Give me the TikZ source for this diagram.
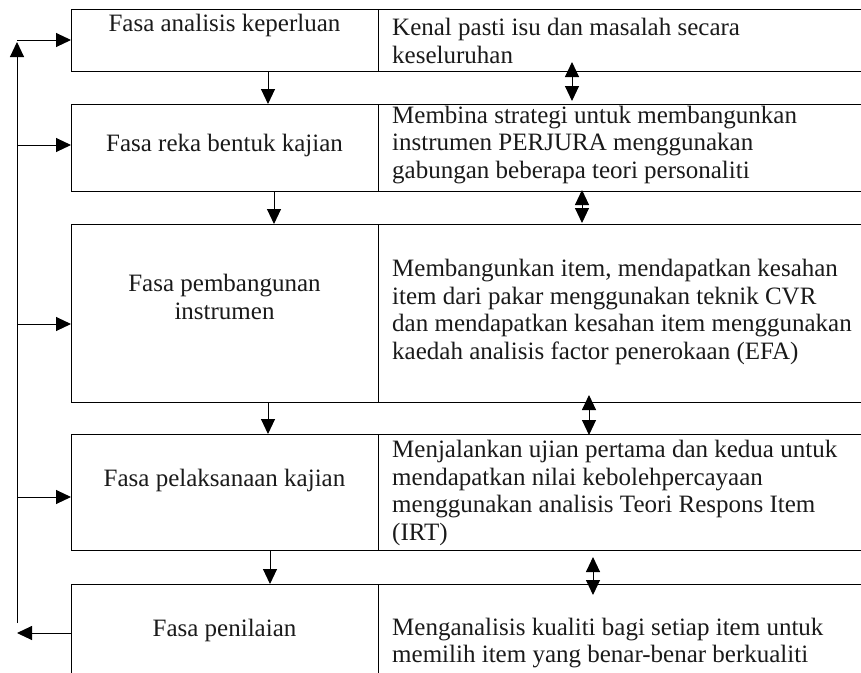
\documentclass[tikz,border=0pt]{standalone}
\usepackage{fontspec}
\setmainfont{Liberation Serif}
\usetikzlibrary{arrows.meta}
\definecolor{txt}{HTML}{1A1A1A}
\tikzset{
  rowbox/.style={draw=black, line width=1.4pt, rectangle, inner sep=0pt, anchor=north west},
  ltext/.style={inner sep=0pt, align=center, text=txt, font=\fontsize{25}{27.5}\selectfont},
  rtext/.style={inner sep=0pt, align=left, anchor=west, text=txt, font=\fontsize{25}{27.5}\selectfont},
  arr/.style={line width=1pt, -{Triangle[length=15pt,width=14pt]}},
  darr/.style={line width=1pt, {Triangle[length=15pt,width=14pt]}-{Triangle[length=15pt,width=14pt]}}
}
\begin{document}
\begin{tikzpicture}[x=1pt,y=-1pt]
\useasboundingbox (0,0) rectangle (861,672);
\clip (0,0) rectangle (861,672);
% right column rows
\node[rowbox, minimum width=520pt, minimum height=62pt]  (R1) at (378,9) {};
\node[rowbox, minimum width=520pt, minimum height=87pt]  (R2) at (378,104) {};
\node[rowbox, minimum width=520pt, minimum height=178pt] (R3) at (378,224) {};
\node[rowbox, minimum width=520pt, minimum height=116pt] (R4) at (378,434) {};
\node[rowbox, minimum width=520pt, minimum height=130pt] (R5) at (378,584) {};
% left boxes
\node[rowbox, minimum width=307pt, minimum height=62pt]  (L1) at (71,9) {};
\node[rowbox, minimum width=307pt, minimum height=87pt]  (L2) at (71,104) {};
\node[rowbox, minimum width=307pt, minimum height=178pt] (L3) at (71,224) {};
\node[rowbox, minimum width=307pt, minimum height=116pt] (L4) at (71,434) {};
\node[rowbox, minimum width=307pt, minimum height=130pt] (L5) at (71,584) {};
% left texts
\node[ltext] (t1) at (224.5,25) {Fasa analisis keperluan};
\node[ltext] (t2) at (224.5,145) {Fasa reka bentuk kajian};
\node[ltext] (t3) at (224.5,297) {Fasa pembangunan\\instrumen};
\node[ltext] (t4) at (224.5,480) {Fasa pelaksanaan kajian};
\node[ltext] (t5) at (224.5,630) {Fasa penilaian};
% right texts
\node[rtext] (r1) at (392,41) {Kenal pasti isu dan masalah secara\\keseluruhan};
\node[rtext] (r2) at (392,145) {Membina strategi untuk membangunkan\\instrumen PERJURA menggunakan\\gabungan beberapa teori personaliti};
\node[rtext] (r3) at (392,312) {Membangunkan item, mendapatkan kesahan\\item dari pakar menggunakan teknik CVR\\dan mendapatkan kesahan item menggunakan\\kaedah analisis factor penerokaan (EFA)};
\node[rtext] (r4) at (392,493) {Menjalankan ujian pertama dan kedua untuk\\mendapatkan nilai kebolehpercayaan\\menggunakan analisis Teori Respons Item\\(IRT)};
\node[rtext] (r5) at (392,643) {Menganalisis kualiti bagi setiap item untuk\\memilih item yang benar-benar berkualiti};
% down arrows between phases
\coordinate (d1) at (268,0);
\coordinate (d2) at (274,0);
\coordinate (d3) at (268,0);
\coordinate (d4) at (270,0);
\draw[arr] (L1.south -| d1) -- (L2.north -| d1);
\draw[arr] (L2.south -| d2) -- (L3.north -| d2);
\draw[arr] (L3.south -| d3) -- (L4.north -| d3);
\draw[arr] (L4.south -| d4) -- (L5.north -| d4);
% double arrows on right
\coordinate (u1) at (572,62);  \coordinate (v1) at (572,101);
\coordinate (u2) at (582,190); \coordinate (v2) at (582,223);
\coordinate (u3) at (589,395); \coordinate (v3) at (589,435);
\coordinate (u4) at (593,557); \coordinate (v4) at (593,595);
\draw[darr] (u1) -- (v1);
\draw[darr] (u2) -- (v2);
\draw[darr] (u3) -- (v3);
\draw[darr] (u4) -- (v4);
% feedback loop on left
\coordinate (fb) at (17,623);
\coordinate (ft) at (17,42);
\coordinate (f1) at (17,40);
\coordinate (f2) at (17,145);
\coordinate (f3) at (17,324);
\coordinate (f4) at (17,497);
\coordinate (f5) at (17,633);
\draw[arr] (fb) -- (ft);
\draw[arr] (f1) -- (f1 -| L1.west);
\draw[arr] (f2) -- (f2 -| L2.west);
\draw[arr] (f3) -- (f3 -| L3.west);
\draw[arr] (f4) -- (f4 -| L4.west);
\draw[arr] (f5 -| L5.west) -- (f5);
\end{tikzpicture}
\end{document}
